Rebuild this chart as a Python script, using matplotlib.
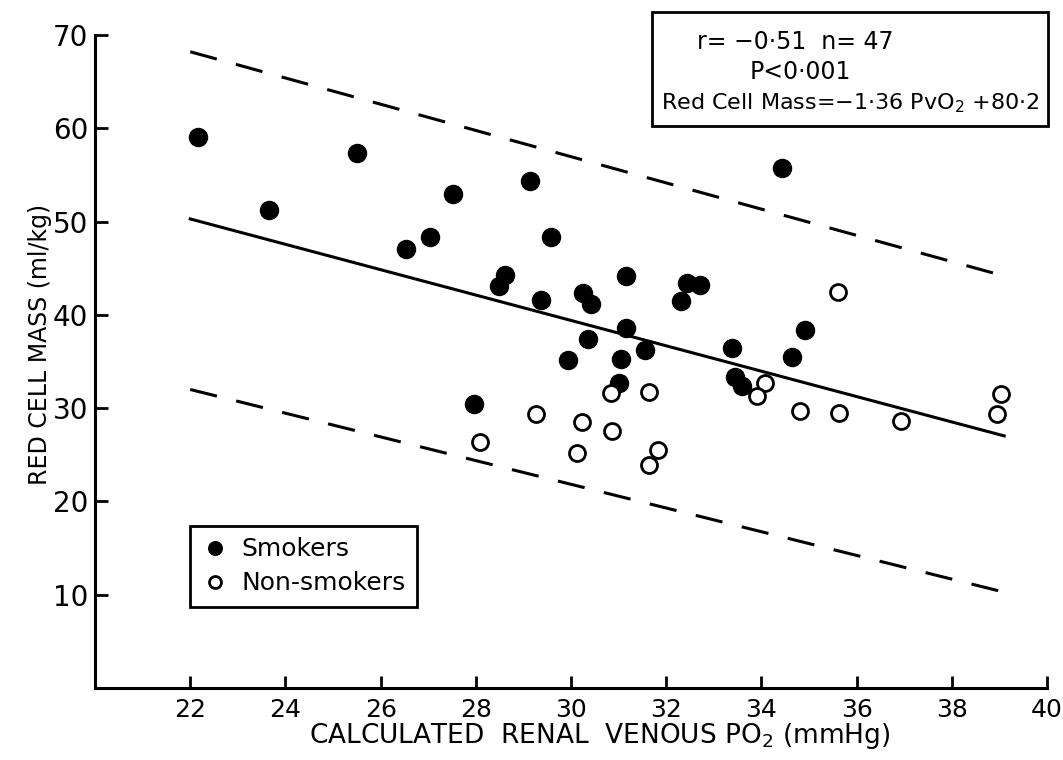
import numpy as np
import matplotlib
matplotlib.use('Agg')
import matplotlib.pyplot as plt
from matplotlib.patches import Rectangle

# ============================================
# DATA
# ============================================
# Smokers: renal venous PO2 (mmHg) vs red cell mass (ml/kg)
po2_smokers = [22.16, 23.66, 25.50, 26.53, 27.04, 27.53, 29.14, 29.57, 28.61, 28.49,
               29.36, 30.26, 30.41, 31.15, 32.44, 32.70, 32.30, 31.16, 30.35, 29.93,
               31.56, 31.05, 31.01, 27.97, 33.39, 33.45, 33.60, 34.64, 34.92, 34.43]
rcm_smokers = [59.1, 51.2, 57.4, 47.1, 48.3, 52.9, 54.3, 48.3, 44.3, 43.1,
               41.6, 42.3, 41.2, 44.2, 43.4, 43.2, 41.5, 38.6, 37.4, 35.2,
               36.2, 35.3, 32.7, 30.4, 36.4, 33.3, 32.4, 35.5, 38.4, 55.7]

# Non-smokers
po2_non = [28.08, 29.27, 30.24, 30.13, 30.84, 30.87, 31.64, 31.83, 31.64,
           34.07, 33.91, 34.80, 35.62, 35.60, 36.93, 39.03, 38.94]
rcm_non = [26.4, 29.4, 28.5, 25.2, 31.6, 27.6, 31.7, 25.5, 23.9,
           32.7, 31.3, 29.7, 29.5, 42.5, 28.6, 31.5, 29.4]

# Regression: Red Cell Mass = -1.36 PvO2 + 80.2
pendiente = -1.36
intercepto = 80.2
x_recta = [22.0, 39.1]

# Limits drawn as dashed lines (end points)
x_limites = [22.0, 39.0]
limite_sup = [68.2, 44.3]
limite_inf = [32.0, 10.4]

xticks = [22, 24, 26, 28, 30, 32, 34, 36, 38, 40]
yticks = [10, 20, 30, 40, 50, 60, 70]

texto_stats = ['r= \u22120\u00b751  n= 47',
               'P<0\u00b7001',
               'Red Cell Mass=\u22121\u00b736 PvO$_2$ +80\u00b72']

# ============================================
# FIGURE
# ============================================
plt.rcParams['font.family'] = ['DejaVu Sans']
plt.rcParams['mathtext.fontset'] = 'dejavusans'

fig = plt.figure(figsize=(10.63, 7.6), dpi=100)
ax = fig.add_axes([0.0894, 0.0947, 0.8956, 0.8593])

ax.plot(po2_smokers, rcm_smokers, 'o', color='black', markersize=13,
        label='Smokers', zorder=3)
ax.plot(po2_non, rcm_non, 'o', markerfacecolor='white', markeredgecolor='black',
        markeredgewidth=2.0, markersize=11.5, label='Non-smokers', zorder=3)

y_recta = [pendiente * x + intercepto for x in x_recta]
ax.plot(x_recta, y_recta, color='black', linewidth=2.2, zorder=2)
ax.plot(x_limites, limite_sup, color='black', linewidth=2.2, dashes=(9, 6.5), zorder=2)
ax.plot(x_limites, limite_inf, color='black', linewidth=2.2, dashes=(9, 6.5), zorder=2)

ax.set_xlim(20, 40)
ax.set_ylim(0, 70)
ax.set_xticks(xticks)
ax.set_yticks(yticks)
ax.tick_params(axis='both', direction='in', length=9, width=2, color='black')
ax.tick_params(axis='x', labelsize=18, pad=7)
ax.tick_params(axis='y', labelsize=20, pad=5)

for lado in ['top', 'right']:
    ax.spines[lado].set_visible(False)
for lado in ['left', 'bottom']:
    ax.spines[lado].set_linewidth(2.2)

ax.set_xlabel('CALCULATED  RENAL  VENOUS PO$_2$ (mmHg)', fontsize=19)
ax.xaxis.set_label_coords(0.53, -0.05)
ax.set_ylabel('RED CELL MASS (ml/kg)', fontsize=17)
ax.yaxis.set_label_coords(-0.045, 0.526)

# Legend box
leg = ax.legend(loc='upper left', bbox_to_anchor=(0.0998, 0.248), borderaxespad=0,
                fontsize=18, frameon=True, fancybox=False, framealpha=1,
                markerscale=0.75, handletextpad=0.5, handlelength=1.1,
                labelspacing=0.4, borderpad=0.45)
leg.get_frame().set_edgecolor('black')
leg.get_frame().set_linewidth(2.0)

# Statistics box (top right)
caja = Rectangle((0.585, 0.861), 0.416, 0.174, transform=ax.transAxes,
                 fill=False, edgecolor='black', linewidth=2.0, clip_on=False)
ax.add_patch(caja)
ax.text(0.735, 0.989, texto_stats[0], transform=ax.transAxes, ha='center',
        va='center', fontsize=17)
ax.text(0.741, 0.943, texto_stats[1], transform=ax.transAxes, ha='center',
        va='center', fontsize=17)
ax.text(0.793, 0.896, texto_stats[2], transform=ax.transAxes, ha='center',
        va='center', fontsize=16)

plt.savefig('out.png', dpi=100)
plt.close()
